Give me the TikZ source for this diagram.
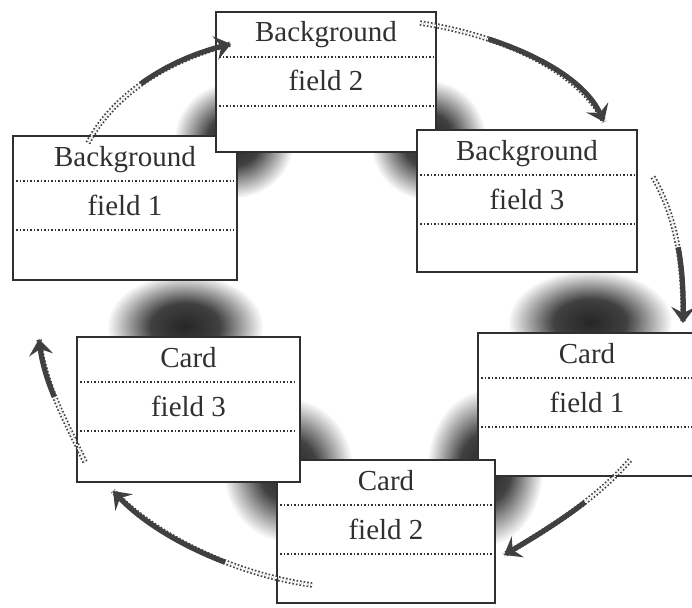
\documentclass[tikz,border=0pt]{standalone}
\usepackage{fontspec}
\setmainfont{Liberation Serif}
\usetikzlibrary{arrows.meta,fadings,calc,fit}
\pgfdeclareradialshading{blobshade}{\pgfpointorigin}{color(0bp)=(pgftransparent!0); color(11bp)=(pgftransparent!12); color(25bp)=(pgftransparent!100); color(50bp)=(pgftransparent!100)}
\pgfdeclarefading{blobfade}{\pgfuseshading{blobshade}}
\definecolor{ink}{HTML}{303030}
\definecolor{arrowgray}{HTML}{404040}
\tikzset{
  cardbox/.style={draw=ink, line width=2pt, fill=white, rectangle, inner sep=0pt},
  lbl/.style={font=\fontsize{29}{33}\selectfont, text=ink, inner sep=0pt, anchor=base},
  dotline/.style={draw=ink, line width=1.6pt, dash pattern=on 1.5pt off 2pt},
  blob/.style={fill=black, path fading=blobfade, fill opacity=0.85},
  arrowtail/.style={draw=arrowgray, line width=1.7pt, double=white, double distance=2pt, dash pattern=on 1.6pt off 2pt},
  arrowbody/.style={draw=arrowgray, line width=5.2pt,
    -{Stealth[length=16pt, width=24pt, inset=6pt]}},
}
\newcommand\mybox[7]{%
  \node[cardbox, fit={(#2,#3) (#4,#5)}] (#1) {};
  \node[lbl] (#1-title) at ($(#1.north)+(0,31)$) {#6};
  \node[lbl] (#1-field) at ($(#1.north)+(0,80)$) {#7};
  \draw[dotline] ($(#1.north west)+(4,46)$) -- ($(#1.north east)+(-4,46)$);
  \draw[dotline] ($(#1.north west)+(4,95)$) -- ($(#1.north east)+(-4,95)$);
}
\begin{document}
\begin{tikzpicture}[x=1pt,y=-1pt]
\useasboundingbox (0,0) rectangle (692,607);
% smudges
\fill[blob] (234,140) ellipse [x radius=60pt, y radius=58pt];
\fill[blob] (428,140) ellipse [x radius=58pt, y radius=60pt];
\fill[blob] (185,326) ellipse [x radius=78pt, y radius=52pt];
\fill[blob] (590,322) ellipse [x radius=82pt, y radius=52pt];
\fill[blob] (288,470) ellipse [x radius=65pt, y radius=72pt];
\fill[blob] (485,468) ellipse [x radius=58pt, y radius=78pt];
% boxes
\mybox{bg1}{13}{136}{237}{280}{Background}{field 1}
\mybox{bg2}{216}{12}{436}{152}{Background}{field 2}
\mybox{bg3}{417}{130}{637}{272}{Background}{field 3}
\mybox{c1}{478}{333}{696}{476}{Card}{field 1}
\mybox{c2}{277}{460}{495}{603}{Card}{field 2}
\mybox{c3}{77}{337}{300}{482}{Card}{field 3}
% connector end points
\coordinate (a1s) at (88,143);  \coordinate (a1e) at (231,44);
\coordinate (a2s) at (420,23);  \coordinate (a2e) at (604,122);
\coordinate (a3s) at (653,177); \coordinate (a3e) at (683,323);
\coordinate (a4s) at (630,460); \coordinate (a4e) at (504,555);
\coordinate (a5s) at (312,585); \coordinate (a5e) at (113,491);
\coordinate (a6s) at (85,462);  \coordinate (a6e) at (39,339);
% arrows
\draw[arrowtail] (a1s) .. controls (110,100) and (160,62) .. (a1e);
\draw[arrowbody, dash pattern=on 0pt off 80pt on 600pt] (a1s) .. controls (110,100) and (160,62) .. (a1e);
\draw[arrowtail] (a2s) .. controls (500,35) and (580,70) .. (a2e);
\draw[arrowbody, dash pattern=on 0pt off 70pt on 600pt] (a2s) .. controls (500,35) and (580,70) .. (a2e);
\draw[arrowtail] (a3s) .. controls (675,215) and (684,260) .. (a3e);
\draw[arrowbody, dash pattern=on 0pt off 75pt on 600pt] (a3s) .. controls (675,215) and (684,260) .. (a3e);
\draw[arrowtail] (a4s) .. controls (600,495) and (560,522) .. (a4e);
\draw[arrowbody, dash pattern=on 0pt off 62pt on 600pt] (a4s) .. controls (600,495) and (560,522) .. (a4e);
\draw[arrowtail] (a5s) .. controls (240,575) and (160,540) .. (a5e);
\draw[arrowbody, dash pattern=on 0pt off 90pt on 600pt] (a5s) .. controls (240,575) and (160,540) .. (a5e);
\draw[arrowtail] (a6s) .. controls (65,420) and (45,385) .. (a6e);
\draw[arrowbody, dash pattern=on 0pt off 72pt on 600pt] (a6s) .. controls (65,420) and (45,385) .. (a6e);
\end{tikzpicture}
\end{document}
